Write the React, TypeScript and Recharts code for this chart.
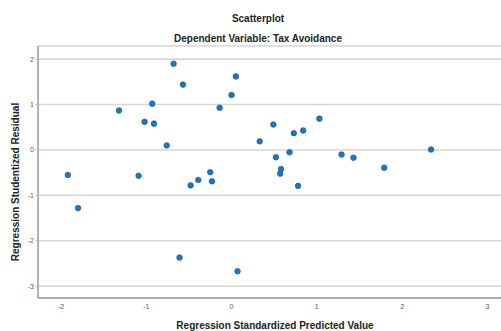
import { ScatterChart, Scatter, XAxis, YAxis, CartesianGrid } from "recharts";

// standardized predicted value (x) and studentized residual (y)
const predicted = [
  -1.92, -1.8, -1.32, -0.93, -1.02, -0.91, -0.76, -1.09, -0.48, -0.39, -0.25, -0.23, -0.14,
  -0.68, -0.57, 0.05, 0.0, -0.61, 0.07,
  0.49, 0.33, 0.73, 0.84, 1.03, 0.52, 0.68, 0.58, 0.57, 0.78, 1.29, 1.43, 1.79, 2.34,
];
const residual = [
  -0.55, -1.28, 0.87, 1.02, 0.62, 0.58, 0.1, -0.57, -0.78, -0.66, -0.49, -0.69, 0.93,
  1.9, 1.44, 1.62, 1.21, -2.37, -2.67,
  0.56, 0.19, 0.37, 0.43, 0.69, -0.16, -0.05, -0.42, -0.52, -0.79, -0.1, -0.17, -0.39, 0.01,
];
const xTicks = [-2, -1, 0, 1, 2, 3];
const yTicks = [-3, -2, -1, 0, 1, 2];

const points = predicted.map((x, i) => ({ x, y: residual[i] }));

const FONT = "'Liberation Sans', Arial, sans-serif";

function Dot(props: { cx?: number; cy?: number }) {
  const { cx, cy } = props;
  if (cx == null || cy == null) return null;
  return <circle cx={cx} cy={cy} r={2.8} fill="#2176bd" stroke="#1a5a90" strokeWidth={0.7} />;
}

export default function App() {
  return (
    <div style={{ position: "absolute", left: 0, top: 0, width: 501, height: 331, background: "#fff", fontFamily: FONT }}>
      <div style={{ position: "absolute", left: 0, top: 13, width: 516, textAlign: "center", fontSize: 10, fontWeight: "bold", color: "#222" }}>
        Scatterplot
      </div>
      <div style={{ position: "absolute", left: 0, top: 33, width: 516, textAlign: "center", fontSize: 10, fontWeight: "bold", color: "#222" }}>
        Dependent Variable: Tax Avoidance
      </div>
      <ScatterChart width={501} height={331} margin={{ top: 46, right: 0, bottom: 13, left: 18 }}>
        <CartesianGrid vertical={false} stroke="#d6d6d6" strokeWidth={1.6} />
        <XAxis
          type="number"
          dataKey="x"
          domain={[-2.27, 3.16]}
          ticks={xTicks}
          allowDataOverflow
          height={20}
          stroke="#9a9a9a"
          strokeWidth={1.5}
          tickLine={false}
          tickSize={4}
          tickMargin={2}
          tick={{ fontSize: 7, fill: "#555", fontFamily: FONT }}
        />
        <YAxis
          type="number"
          dataKey="y"
          domain={[-3.26, 2.29]}
          ticks={yTicks}
          allowDataOverflow
          width={20}
          stroke="#9a9a9a"
          strokeWidth={1.5}
          tickLine={{ stroke: "#c4c4c4", strokeWidth: 1 }}
          tickSize={3}
          tickMargin={1}
          tick={{ fontSize: 7, fill: "#555", fontFamily: FONT }}
        />
        <Scatter data={points} shape={<Dot />} isAnimationActive={false} />
      </ScatterChart>
      <div style={{ position: "absolute", left: 0, top: 320, width: 550, textAlign: "center", fontSize: 10, fontWeight: "bold", color: "#222" }}>
        Regression Standardized Predicted Value
      </div>
      <div
        style={{
          position: "absolute",
          left: 16 - 100,
          top: 182 - 6,
          width: 200,
          textAlign: "center",
          fontSize: 10,
          fontWeight: "bold",
          color: "#222",
          transform: "rotate(-90deg)",
          lineHeight: "12px",
        }}
      >
        Regression Studentized Residual
      </div>
    </div>
  );
}
